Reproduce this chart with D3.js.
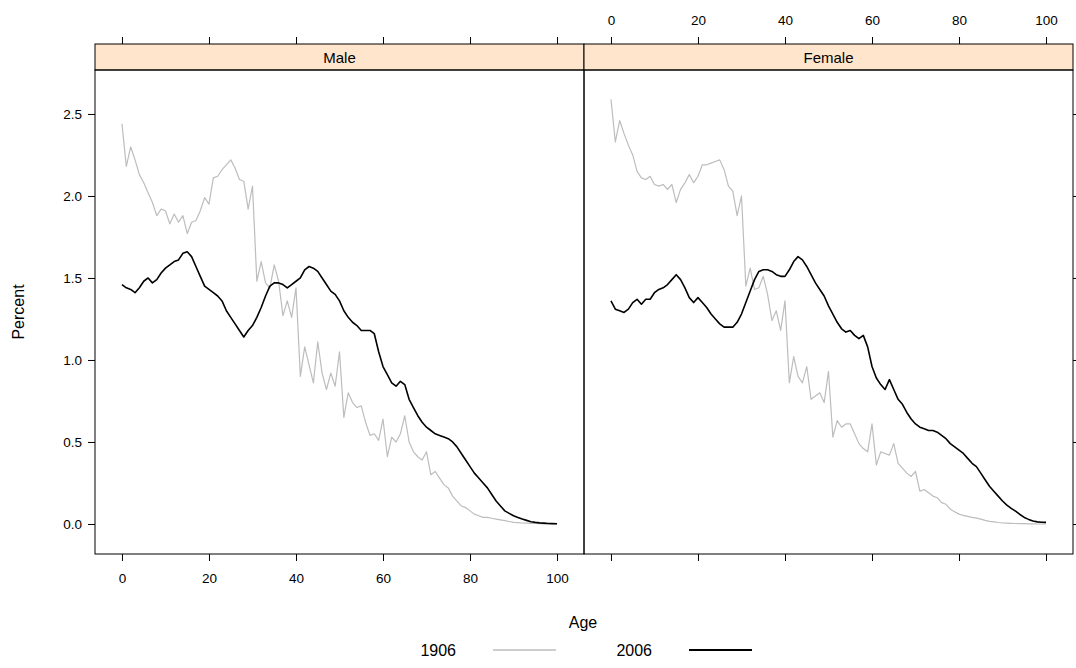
<!DOCTYPE html>
<html><head><meta charset="utf-8">
<script src="https://cdn.jsdelivr.net/npm/d3@7"></script>
<style>
body{margin:0;background:#fff;}
svg{display:block;font-family:"Liberation Sans",Arial,sans-serif;}
.axis text{font-size:13.5px;fill:#000;}
.axis path,.axis line{stroke:#000;stroke-width:1;}
</style></head><body>
<svg id="chart" width="1076" height="668"></svg>
<script>
const panels = ["Male", "Female"];
const years = ["1906", "2006"];
const ages = d3.range(0, 101);
const xTicks = [0, 20, 40, 60, 80, 100];
const yTicks = [0, 0.5, 1.0, 1.5, 2.0, 2.5];

const male1906 = [2.44,2.18,2.30,2.22,2.13,2.08,2.02,1.96,1.88,1.92,1.91,1.83,1.89,1.84,1.88,1.77,1.84,1.85,1.91,1.99,
1.95,2.11,2.12,2.16,2.19,2.22,2.17,2.10,2.09,1.92,2.06,1.48,1.60,1.47,1.44,1.58,1.48,1.27,1.36,1.26,
1.44,0.90,1.08,0.97,0.86,1.11,0.92,0.82,0.92,0.84,1.05,0.65,0.80,0.74,0.71,0.72,0.62,0.54,0.55,0.51,
0.64,0.41,0.53,0.50,0.55,0.66,0.50,0.44,0.41,0.39,0.44,0.30,0.32,0.28,0.24,0.22,0.17,0.14,0.11,0.10,
0.08,0.06,0.05,0.04,0.04,0.035,0.03,0.025,0.02,0.015,0.01,0.008,0.006,0.005,0.004,0.003,0.002,0.001,0.001,0,0];
const male2006 = [1.46,1.44,1.43,1.41,1.44,1.48,1.50,1.47,1.49,1.53,1.56,1.58,1.60,1.61,1.65,1.66,1.63,1.57,1.51,1.45,
1.43,1.41,1.39,1.36,1.30,1.26,1.22,1.18,1.14,1.18,1.21,1.26,1.32,1.39,1.45,1.47,1.47,1.46,1.44,1.46,
1.48,1.50,1.55,1.57,1.56,1.54,1.50,1.46,1.42,1.40,1.36,1.30,1.26,1.23,1.21,1.18,1.18,1.18,1.16,1.05,
0.96,0.91,0.86,0.84,0.87,0.85,0.76,0.71,0.66,0.62,0.59,0.57,0.55,0.54,0.53,0.52,0.50,0.47,0.43,0.39,
0.35,0.31,0.28,0.25,0.22,0.18,0.14,0.11,0.08,0.065,0.05,0.04,0.03,0.022,0.014,0.01,0.007,0.005,0.003,0.002,0.001];
const female1906 = [2.59,2.33,2.46,2.38,2.31,2.25,2.15,2.11,2.10,2.12,2.07,2.06,2.07,2.04,2.07,1.96,2.04,2.08,2.13,2.08,
2.12,2.19,2.19,2.20,2.21,2.22,2.16,2.06,2.03,1.88,2.00,1.45,1.56,1.43,1.44,1.51,1.40,1.24,1.30,1.18,
1.36,0.86,1.02,0.90,0.86,0.96,0.76,0.78,0.80,0.74,0.93,0.53,0.63,0.59,0.61,0.61,0.55,0.49,0.46,0.44,
0.61,0.36,0.44,0.43,0.42,0.49,0.37,0.34,0.31,0.29,0.32,0.20,0.21,0.19,0.17,0.16,0.13,0.12,0.09,0.075,
0.06,0.052,0.046,0.04,0.036,0.03,0.022,0.016,0.013,0.009,0.006,0.005,0.004,0.003,0.002,0.002,0.001,0.001,0,0,0];
const female2006 = [1.36,1.31,1.30,1.29,1.31,1.35,1.37,1.34,1.37,1.37,1.41,1.43,1.44,1.46,1.49,1.52,1.49,1.44,1.38,1.35,
1.38,1.35,1.32,1.28,1.25,1.22,1.20,1.20,1.20,1.23,1.28,1.35,1.42,1.49,1.54,1.55,1.55,1.54,1.52,1.51,
1.51,1.55,1.60,1.63,1.61,1.57,1.52,1.47,1.43,1.39,1.33,1.28,1.23,1.19,1.17,1.18,1.15,1.13,1.15,1.08,
0.96,0.89,0.85,0.82,0.88,0.82,0.76,0.73,0.68,0.64,0.61,0.59,0.58,0.57,0.57,0.56,0.54,0.52,0.49,0.47,
0.45,0.43,0.40,0.37,0.35,0.31,0.27,0.23,0.20,0.17,0.14,0.115,0.095,0.078,0.058,0.04,0.028,0.018,0.013,0.011,0.01];

const seriesByPanel = {Male: [male1906, male2006], Female: [female1906, female2006]};
const colors = ["#bdbdbd", "#000000"];
const widths = [1.2, 1.6];

const svg = d3.select("#chart");
const W = 489, plotTop = 70, plotBottom = 554, stripTop = 44;
const panelLeft = [95, 584];

const y = d3.scaleLinear().domain([-0.183, 2.768]).range([plotBottom, plotTop]);
const fmt = d3.format(".1f");

panels.forEach((p, i) => {
  const x0 = panelLeft[i];
  const x = d3.scaleLinear().domain([-6.2, 106.2]).range([x0, x0 + W]);
  const g = svg.append("g");
  const line = d3.line().x((d, k) => x(ages[k])).y(d => y(d));
  seriesByPanel[p].forEach((s, j) => {
    g.append("path").datum(s).attr("d", line)
      .attr("fill", "none").attr("stroke", colors[j]).attr("stroke-width", widths[j])
      .attr("stroke-linejoin", "round");
  });
  g.append("rect").attr("x", x0).attr("y", stripTop).attr("width", W).attr("height", plotTop - stripTop)
    .attr("fill", "#ffe5cc").attr("stroke", "#000").attr("stroke-width", 1);
  g.append("text").attr("x", x0 + W / 2).attr("y", stripTop + 19).attr("text-anchor", "middle")
    .style("font-size", "15px").text(p);
  g.append("rect").attr("x", x0).attr("y", plotTop).attr("width", W).attr("height", plotBottom - plotTop)
    .attr("fill", "none").attr("stroke", "#000").attr("stroke-width", 1);
  const bAx = d3.axisBottom(x).tickValues(xTicks).tickSize(7).tickPadding(12);
  const tAx = d3.axisTop(x).tickValues(xTicks).tickSize(7).tickPadding(12);
  if (i === 0) {
    svg.append("g").attr("class", "axis").attr("transform", `translate(0,${plotBottom})`).call(bAx)
      .call(a => a.select(".domain").remove());
    svg.append("g").attr("class", "axis").attr("transform", `translate(0,${stripTop})`).call(tAx.tickFormat(""))
      .call(a => a.select(".domain").remove());
    svg.append("g").attr("class", "axis").attr("transform", `translate(${x0},0)`)
      .call(d3.axisLeft(y).tickValues(yTicks).tickFormat(fmt).tickSize(7).tickPadding(6))
      .call(a => a.select(".domain").remove());
  } else {
    svg.append("g").attr("class", "axis").attr("transform", `translate(0,${plotBottom})`).call(bAx.tickFormat(""))
      .call(a => a.select(".domain").remove());
    svg.append("g").attr("class", "axis").attr("transform", `translate(0,${stripTop})`).call(tAx)
      .call(a => a.select(".domain").remove());
    svg.append("g").attr("class", "axis").attr("transform", `translate(${x0 + W},0)`)
      .call(d3.axisRight(y).tickValues(yTicks).tickFormat("").tickSize(7))
      .call(a => a.select(".domain").remove());
  }
});

svg.append("text").attr("x", 583).attr("y", 628).attr("text-anchor", "middle").style("font-size", "16px").text("Age");
svg.append("text").attr("transform", "translate(24,312) rotate(-90)").attr("text-anchor", "middle")
  .style("font-size", "16px").text("Percent");

const legX = [456, 652];
years.forEach((yr, j) => {
  svg.append("text").attr("x", legX[j]).attr("y", 656).attr("text-anchor", "end").style("font-size", "16px").text(yr);
  svg.append("line").attr("x1", legX[j] + 37).attr("x2", legX[j] + 100).attr("y1", 650).attr("y2", 650)
    .attr("stroke", colors[j]).attr("stroke-width", widths[j] + 0.4);
});
</script>
</body></html>
